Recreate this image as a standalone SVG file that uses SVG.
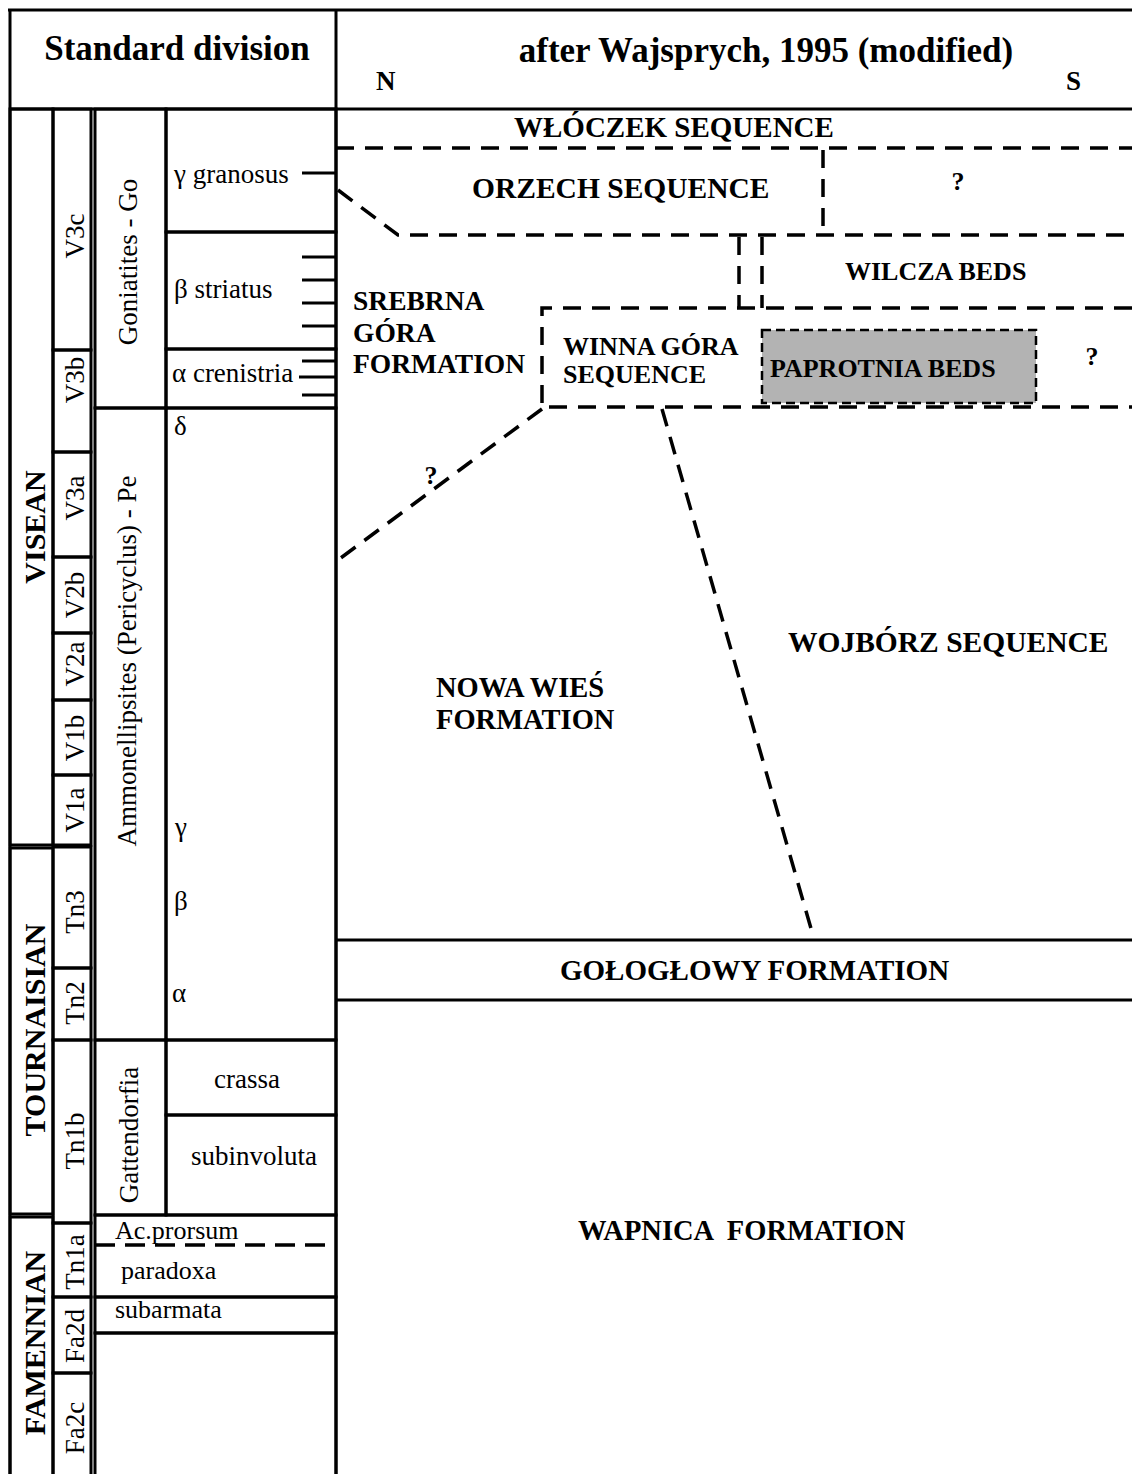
<svg xmlns="http://www.w3.org/2000/svg" width="1132" height="1474" viewBox="0 0 1132 1474">
<style>
.ln{stroke:#000;stroke-width:3;fill:none}
.bx{stroke:#000;stroke-width:3;fill:none}
.dsh{stroke:#000;stroke-width:3.5;fill:none;stroke-dasharray:18 11}
.t{font-family:"Liberation Serif","Times New Roman",serif;fill:#000}
.b{font-weight:bold}
.r{font-size:27px}
.big{font-size:35px;font-weight:bold}
</style>
<rect width="1132" height="1474" fill="#fff"/>
<g id="frame">
<line class="ln" x1="8" y1="10" x2="1132" y2="10"/>
<line class="ln" x1="10" y1="10" x2="10" y2="1474"/>
<line class="ln" x1="10" y1="109" x2="1132" y2="109"/>
<line class="ln" x1="336" y1="10" x2="336" y2="1474"/>
</g>
<g id="header-left"><text class="t big" x="177" y="60" text-anchor="middle">Standard division</text></g>
<g id="header-right">
<text class="t big" x="766" y="62" text-anchor="middle">after Wajsprych, 1995 (modified)</text>
<text class="t b" x="376" y="90" font-size="27">N</text>
<text class="t b" x="1066" y="90" font-size="27">S</text>
</g>
<g id="periods">
<rect class="bx" x="10" y="109" width="43" height="736"/>
<rect class="bx" x="10" y="848" width="43" height="366"/>
<rect class="bx" x="10" y="1217" width="43" height="260"/>
<text class="t b" font-size="30" transform="translate(45,527) rotate(-90)" text-anchor="middle">VISEAN</text>
<text class="t b" font-size="30" transform="translate(45,1030) rotate(-90)" text-anchor="middle">TOURNAISIAN</text>
<text class="t b" font-size="30" transform="translate(45,1343) rotate(-90)" text-anchor="middle">FAMENNIAN</text>
</g>
<g id="zones">
<rect class="bx" x="53" y="109" width="38" height="241"/>
<rect class="bx" x="53" y="350" width="38" height="102"/>
<rect class="bx" x="53" y="452" width="38" height="105"/>
<rect class="bx" x="53" y="557" width="38" height="76"/>
<rect class="bx" x="53" y="633" width="38" height="67"/>
<rect class="bx" x="53" y="700" width="38" height="75"/>
<rect class="bx" x="53" y="775" width="38" height="70"/>
<rect class="bx" x="53" y="847" width="38" height="121"/>
<rect class="bx" x="53" y="968" width="38" height="72"/>
<rect class="bx" x="53" y="1040" width="38" height="183"/>
<rect class="bx" x="53" y="1223" width="38" height="74"/>
<rect class="bx" x="53" y="1297" width="38" height="76"/>
<rect class="bx" x="53" y="1373" width="38" height="104"/>
<g class="t r" text-anchor="middle">
<text transform="translate(84,236) rotate(-90)">V3c</text>
<text transform="translate(84,380) rotate(-90)">V3b</text>
<text transform="translate(84,498) rotate(-90)">V3a</text>
<text transform="translate(84,595) rotate(-90)">V2b</text>
<text transform="translate(84,664) rotate(-90)">V2a</text>
<text transform="translate(84,738) rotate(-90)">V1b</text>
<text transform="translate(84,810) rotate(-90)">V1a</text>
<text transform="translate(84,912) rotate(-90)">Tn3</text>
<text transform="translate(84,1003) rotate(-90)">Tn2</text>
<text transform="translate(84,1141) rotate(-90)">Tn1b</text>
<text transform="translate(84,1262) rotate(-90)">Tn1a</text>
<text transform="translate(84,1336) rotate(-90)">Fa2d</text>
<text transform="translate(84,1428) rotate(-90)">Fa2c</text>
</g>
</g>
<g id="genera">
<rect class="bx" x="95" y="109" width="71" height="299"/>
<rect class="bx" x="95" y="408" width="71" height="632"/>
<rect class="bx" x="95" y="1040" width="71" height="175"/>
<g class="t r" text-anchor="middle">
<text transform="translate(137,262) rotate(-90)">Goniatites - Go</text>
<text transform="translate(136,661) rotate(-90)">Ammonellipsites (Pericyclus) - Pe</text>
<text transform="translate(138,1135) rotate(-90)">Gattendorfia</text>
</g>
</g>
<g id="species">
<rect class="bx" x="166" y="109" width="170" height="123"/>
<rect class="bx" x="166" y="232" width="170" height="117"/>
<rect class="bx" x="166" y="349" width="170" height="59"/>
<rect class="bx" x="166" y="408" width="170" height="632"/>
<rect class="bx" x="166" y="1040" width="170" height="75"/>
<rect class="bx" x="166" y="1115" width="170" height="100"/>
<g class="ln">
<line x1="302" y1="173" x2="336" y2="173"/>
<line x1="302" y1="257" x2="336" y2="257"/>
<line x1="302" y1="280" x2="336" y2="280"/>
<line x1="302" y1="303" x2="336" y2="303"/>
<line x1="302" y1="326" x2="336" y2="326"/>
<line x1="302" y1="361" x2="336" y2="361"/>
<line x1="299" y1="377" x2="336" y2="377"/>
<line x1="302" y1="395" x2="336" y2="395"/>
</g>
<g class="t r">
<text x="174" y="183">γ granosus</text>
<text x="174" y="298">β striatus</text>
<text x="172" y="382">α crenistria</text>
<text x="174" y="435">δ</text>
<text x="175" y="836">γ</text>
<text x="174" y="910">β</text>
<text x="172" y="1002">α</text>
<text x="247" y="1088" text-anchor="middle">crassa</text>
<text x="254" y="1165" text-anchor="middle">subinvoluta</text>
</g>
</g>
<g id="lower-zones">
<rect class="bx" x="95" y="1215" width="241" height="82"/>
<rect class="bx" x="95" y="1297" width="241" height="36"/>
<rect class="bx" x="95" y="1333" width="241" height="144"/>
<line x1="95" y1="1245" x2="336" y2="1245" stroke="#000" stroke-width="3.5" stroke-dasharray="20 10"/>
<g class="t" font-size="26">
<text x="115" y="1239">Ac.prorsum</text>
<text x="121" y="1279">paradoxa</text>
<text x="115" y="1318">subarmata</text>
</g>
</g>
<g id="connectors">
<line class="dsh" x1="336" y1="148" x2="1132" y2="148"/>
<line class="dsh" x1="823" y1="150" x2="823" y2="232"/>
<polyline class="dsh" points="338,190 398,235 1132,235"/>
<line class="dsh" x1="739" y1="237" x2="739" y2="308"/>
<line class="dsh" x1="762" y1="237" x2="762" y2="308"/>
<polyline class="dsh" points="1132,308 542,308 542,407 1132,407"/>
<line class="dsh" x1="542" y1="409" x2="338" y2="560"/>
<line class="dsh" x1="662" y1="409" x2="812" y2="932"/>
<line class="ln" x1="336" y1="940" x2="1132" y2="940"/>
<line class="ln" x1="336" y1="1000" x2="1132" y2="1000"/>
</g>
<g id="wloczek"><text class="t b" font-size="29" x="514" y="137">WŁÓCZEK SEQUENCE</text></g>
<g id="orzech">
<text class="t b" font-size="29.5" x="472" y="198">ORZECH SEQUENCE</text>
<text class="t b" font-size="26" x="958" y="190" text-anchor="middle">?</text>
</g>
<g id="wilcza"><text class="t b" font-size="26" x="845" y="280">WILCZA BEDS</text></g>
<g id="srebrna">
<text class="t b" font-size="27.5" x="353" y="310">SREBRNA</text>
<text class="t b" font-size="27.5" x="353" y="342">GÓRA</text>
<text class="t b" font-size="27.5" x="353" y="373">FORMATION</text>
</g>
<g id="winna">
<text class="t b" font-size="26" x="563" y="355">WINNA GÓRA</text>
<text class="t b" font-size="26" x="563" y="383">SEQUENCE</text>
<text class="t b" font-size="26" x="1092" y="365" text-anchor="middle">?</text>
</g>
<g id="paprotnia">
<rect x="762" y="330" width="274" height="73" fill="#b3b3b3" stroke="#000" stroke-width="2.5" stroke-dasharray="9 5"/>
<text class="t b" font-size="26" x="770" y="377">PAPROTNIA BEDS</text>
</g>
<g id="q-left"><text class="t b" font-size="26" x="431" y="484" text-anchor="middle">?</text></g>
<g id="wojborz"><text class="t b" font-size="29.5" x="788" y="652">WOJBÓRZ SEQUENCE</text></g>
<g id="nowa">
<text class="t b" font-size="28.5" x="436" y="697">NOWA WIEŚ</text>
<text class="t b" font-size="28.5" x="436" y="729">FORMATION</text>
</g>
<g id="gologlowy"><text class="t b" font-size="29" x="560" y="980">GOŁOGŁOWY FORMATION</text></g>
<g id="wapnica"><text class="t b" font-size="28.5" x="578" y="1240" style="white-space:pre">WAPNICA  FORMATION</text></g>
</svg>
